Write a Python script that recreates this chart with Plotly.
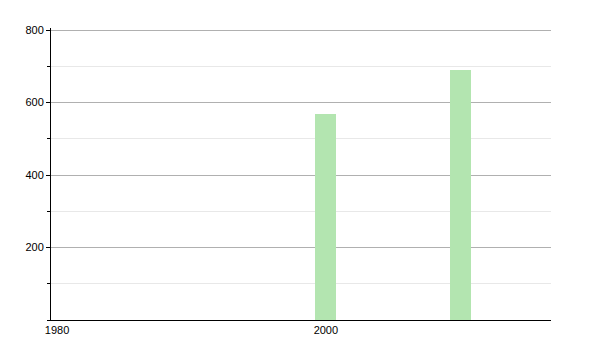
import plotly.graph_objects as go

years = [2000, 2010]
values = [570, 689]
x_ticks = [1980, 2000]
y_ticks = [200, 400, 600, 800]

fig = go.Figure()
fig.add_trace(go.Bar(
    x=years, y=values, width=1.55,
    marker=dict(color="#b3e5b0", line=dict(width=0)),
))

fig.update_layout(
    width=600, height=350,
    margin=dict(l=51, r=49, t=28, b=30),
    paper_bgcolor="white", plot_bgcolor="white",
    showlegend=False,
    font=dict(family="Liberation Sans, Arial, sans-serif", size=11, color="black"),
    xaxis=dict(
        range=[1979.55, 2016.75],
        tickvals=x_ticks, ticktext=[str(v) for v in x_ticks],
        showgrid=False, zeroline=False,
        showline=True, linecolor="black", linewidth=1,
        ticks="", ticklen=0,
    ),
    yaxis=dict(
        range=[0, 806],
        tickvals=y_ticks, ticktext=[str(v) for v in y_ticks],
        showgrid=True, gridcolor="#b0b0b0", gridwidth=1,
        zeroline=False,
        showline=True, linecolor="black", linewidth=1,
        ticks="outside", ticklen=4, tickcolor="black", tickwidth=1,
        minor=dict(dtick=100, tick0=0, showgrid=True, gridcolor="#e8e8e8",
                   ticks="outside", ticklen=3, tickcolor="black"),
    ),
    bargap=0,
)

fig.write_html("out.html")
